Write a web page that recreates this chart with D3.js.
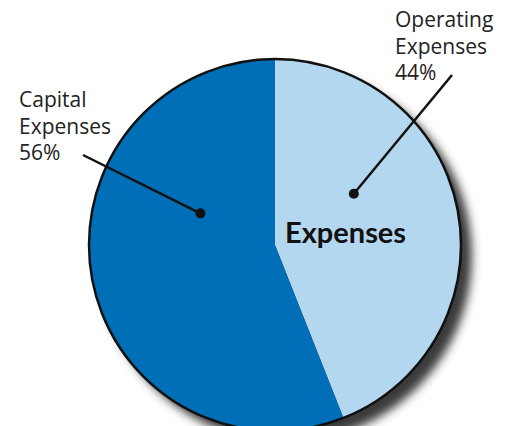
<!DOCTYPE html>
<html><head><meta charset="utf-8">
<script src="https://cdn.jsdelivr.net/npm/d3@7"></script>
<style>html,body{margin:0;padding:0;background:#fff;}</style>
</head><body>
<script>
const categories = ["Operating Expenses", "Capital Expenses"];
const values = [44, 56];
const labelLines = [["Operating", "Expenses", "44%"], ["Capital", "Expenses", "56%"]];
const title = "Expenses";

const W = 511, H = 426;
const cx = 275, cy = 245, R = 186;
const colors = ["#B3D7EF", "#006FB7"];
// annotation layout: dot (angle deg, radius), line end, text anchor
const annot = [
  {dotA: 57, dotR: 94, end: [452, 75], text: [395, 27]},
  {dotA: -67, dotR: 81, end: [83, 155], text: [19, 107]}
];

const svg = d3.select("body").append("svg").attr("width", W).attr("height", H);
const defs = svg.append("defs");
const f = defs.append("filter").attr("id", "sh").attr("x", "-20%").attr("y", "-20%").attr("width", "150%").attr("height", "150%");
f.append("feGaussianBlur").attr("stdDeviation", 5);

const g = svg.append("g").attr("transform", `translate(${cx},${cy})`);
g.append("circle").attr("cx", 11).attr("cy", 11).attr("r", R).attr("fill", "#3a3a3a").attr("filter", "url(#sh)");

const pie = d3.pie().sort(null).value(d => d)(values);
const arc = d3.arc().innerRadius(0).outerRadius(R);
g.selectAll("path.slice").data(pie).join("path").attr("class", "slice")
  .attr("d", arc).attr("fill", (d, i) => colors[i]);
g.append("circle").attr("r", R).attr("fill", "none").attr("stroke", "#111").attr("stroke-width", 2.5);

g.append("text").attr("x", 10).attr("y", -2).text(title)
  .attr("font-family", "Lato, 'Open Sans', sans-serif").attr("font-weight", "bold")
  .attr("font-size", 29).attr("fill", "#111");

annot.forEach((a, i) => {
  const ang = a.dotA * Math.PI / 180;
  const dx = cx + a.dotR * Math.sin(ang), dy = cy - a.dotR * Math.cos(ang);
  svg.append("line").attr("x1", dx).attr("y1", dy).attr("x2", a.end[0]).attr("y2", a.end[1])
    .attr("stroke", "#111").attr("stroke-width", 2.5);
  svg.append("circle").attr("cx", dx).attr("cy", dy).attr("r", 5).attr("fill", "#111");
  const t = svg.append("text").attr("font-family", "'Open Sans', sans-serif").attr("font-size", 21).attr("fill", "#222");
  labelLines[i].forEach((l, j) => {
    t.append("tspan").attr("x", a.text[0]).attr("y", a.text[1] + j * 26.5).text(l);
  });
});
</script>
</body></html>
